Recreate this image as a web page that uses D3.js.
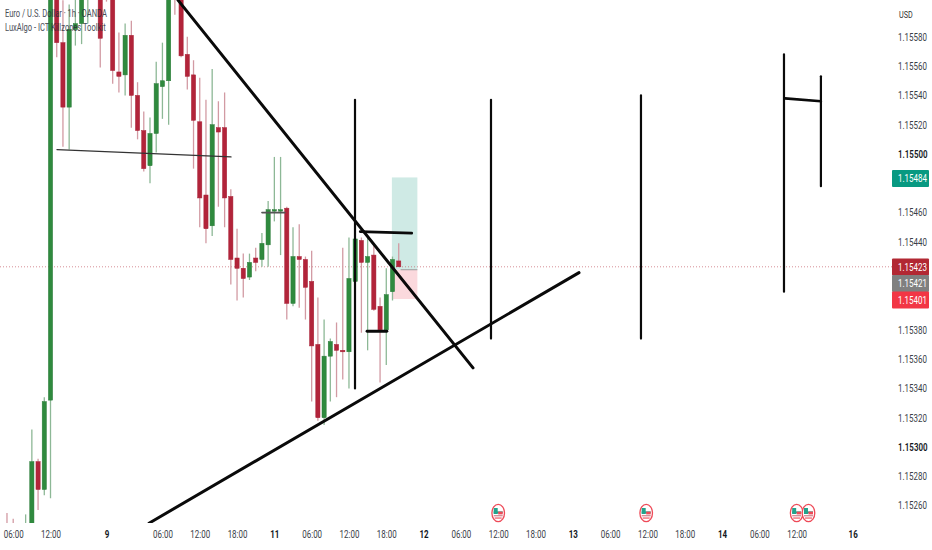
<!DOCTYPE html>
<html><head><meta charset="utf-8">
<style>
html,body{margin:0;padding:0;background:#fff;overflow:hidden}
svg{display:block}
text{font-family:Roboto,"Open Sans",sans-serif}
</style>
<script src="https://cdn.jsdelivr.net/npm/d3@7/dist/d3.min.js"></script>
</head><body><svg id="c" width="932" height="550"></svg>
<script>
// Hourly bars, prices expressed as 1.15 + value / 100000
const barStart = -1;
const opens  = [243,243,225,235,240,290,271,332,640,576,532,585,589,611,635,625,630,620,556,554,581,540,516,492,514,546,550,625,612,568,554,522,472,451,518,518,471,429,422,416,429,428,438,461,461,463,398,430,428,413,370,320,362,370,366,365,413,441,426,431,396,380,406,427];
const highs  = [255,251,232,254,312,292,334,650,650,605,602,610,615,630,650,630,635,625,583,589,591,549,529,525,563,576,625,630,620,580,564,552,537,558,536,542,476,449,432,432,436,446,468,498,498,464,450,452,430,434,402,387,374,385,436,443,443,443,443,438,402,422,430,439];
const lows   = [237,237,220,232,235,257,267,265,566,505,503,574,575,589,612,559,604,548,542,540,518,510,488,480,501,524,520,595,566,544,490,450,439,444,464,450,411,400,402,414,420,423,423,454,431,387,396,395,387,331,318,315,331,334,346,340,412,378,366,393,344,356,400,423];
const closes = [240,240,230,243,290,271,331,646,576,532,585,589,611,625,625,579,620,557,553,581,540,516,490,514,548,550,615,612,567,553,523,470,449,520,515,470,428,422,415,426,426,439,462,462,462,398,430,428,409,369,320,362,372,366,365,415,442,426,430,394,380,404,428,423];

const priceTicks = [1.1526,1.1528,1.1530,1.1532,1.1534,1.1536,1.1538,1.1544,1.1546,1.1550,1.1552,1.1554,1.1556,1.1558];
const boldPrices = [1.1530,1.1550];
const timeTickBars = [0,6,15,24,30,36,42,48,54,60,66,72,78,84,90,96,102,108,114,120,126,135];
const timeTickLabels = ["06:00","12:00","9","06:00","12:00","18:00","11","06:00","12:00","18:00","12","06:00","12:00","18:00","13","06:00","12:00","18:00","14","06:00","12:00","16"];
const boldTimes = ["9","11","12","13","14","16"];

const lastPrice = 1.15423;
const tagPrices = [1.15484,1.15423,1.15421,1.15401];
const tagColors = ["#089981","#b22833","#808080","#f23645"];
const titleLines = ["Euro / U.S. Dollar · 1h · OANDA","LuxAlgo - ICT Killzones Toolkit"];
const eventBars = [78,101.8,126,127.9];

// Position tool: bar range and target / entry / stop
const positionBars = [60.9,65];
const positionPrices = [1.15484,1.15421,1.15401];

// Hand-drawn lines: [bar, price, bar, price, width, colour]
const drawnLines = [
 [26.5,1.15605,73.95,1.15354,3,"#0a0a0a"],
 [21.84,1.15248,91,1.15419,3,"#0a0a0a"],
 [7.04,1.15503,35.03,1.15498,1.3,"#333"],
 [40,1.1546,43.7,1.1546,1.6,"#555"],
 [54.97,1.15537,54.97,1.1534,2.2,"#0a0a0a"],
 [76.84,1.15537,76.84,1.15374,2.2,"#0a0a0a"],
 [100.96,1.1554,100.96,1.15374,2.2,"#0a0a0a"],
 [123.96,1.15568,123.96,1.15406,2.2,"#0a0a0a"],
 [129.9,1.15553,129.9,1.15478,2.2,"#0a0a0a"],
 [124.1,1.15538,129.9,1.15536,2.6,"#0a0a0a"],
 [55.8,1.15447,64.1,1.15446,2.6,"#0a0a0a"],
 [56.9,1.15379,60.1,1.15379,2.8,"#0a0a0a"]
];

const x = d3.scaleLinear().domain([0,100]).range([13.2,635]);
const y = d3.scaleLinear().domain([1.155,1.153]).range([154,447]);
const svg = d3.select("#c");
const plotW = 892, plotH = 523;
svg.append("defs").append("clipPath").attr("id","plot").append("rect").attr("width",plotW).attr("height",plotH);
const plot = svg.append("g").attr("clip-path","url(#plot)");

const bars = opens.map((o,i)=>({i:i+barStart,o:1.15+o/1e5,h:1.15+highs[i]/1e5,l:1.15+lows[i]/1e5,c:1.15+closes[i]/1e5}));
const UP="#2f8a3e", DOWN="#b2243a", UPB="#2a7a38", DOWNB="#a82136";

// position tool
plot.append("rect").attr("x",x(positionBars[0])).attr("width",x(positionBars[1])-x(positionBars[0]))
 .attr("y",y(positionPrices[0])).attr("height",y(positionPrices[1])-y(positionPrices[0])).attr("fill","#cfeae5");
plot.append("rect").attr("x",x(positionBars[0])).attr("width",x(positionBars[1])-x(positionBars[0]))
 .attr("y",y(positionPrices[1])).attr("height",y(positionPrices[2])-y(positionPrices[1])).attr("fill","#fbd9dd");

// last price line
plot.append("line").attr("x1",0).attr("x2",plotW).attr("y1",y(lastPrice)).attr("y2",y(lastPrice))
 .attr("stroke","#c5606c").attr("stroke-width",1).attr("stroke-dasharray","1 2").attr("opacity",.7);

// wicks
plot.selectAll("line.w").data(bars).join("line").attr("class","w")
 .attr("x1",d=>x(d.i)).attr("x2",d=>x(d.i)).attr("y1",d=>y(d.h)).attr("y2",d=>y(d.l))
 .attr("stroke",d=>d.c>=d.o?"#8db896":"#d29aa3").attr("stroke-width",1.3);
// bodies
plot.selectAll("rect.b").data(bars).join("rect").attr("class","b")
 .attr("x",d=>x(d.i)-2.1).attr("width",4.2)
 .attr("y",d=>y(Math.max(d.o,d.c))).attr("height",d=>Math.max(1.5,Math.abs(y(d.o)-y(d.c))))
 .attr("fill",d=>d.c>=d.o?UP:DOWN).attr("stroke",d=>d.c>=d.o?UPB:DOWNB).attr("stroke-width",.5);

// drawn lines
plot.selectAll("line.d").data(drawnLines).join("line").attr("class","d")
 .attr("x1",d=>x(d[0])).attr("y1",d=>y(d[1])).attr("x2",d=>x(d[2])).attr("y2",d=>y(d[3]))
 .attr("stroke",d=>d[5]).attr("stroke-width",d=>d[4]).attr("stroke-linecap","round");
// entry marker inside the position tool
plot.append("line").attr("x1",x(62.3)).attr("x2",x(positionBars[1])).attr("y1",y(positionPrices[1])).attr("y2",y(positionPrices[1]))
 .attr("stroke","#999").attr("stroke-width",1);

// events
const ev = svg.append("g").selectAll("g").data(eventBars).join("g").attr("transform",d=>`translate(${x(d)},513)`);
ev.append("ellipse").attr("rx",6.3).attr("ry",8.6).attr("fill","#fff").attr("stroke","#ee4a58").attr("stroke-width",1.3);
ev.append("rect").attr("x",-4.5).attr("y",-5).attr("width",4).attr("height",6).attr("fill","#22a38c");
ev.append("rect").attr("x",-4.5).attr("y",-1.6).attr("width",9).attr("height",2).attr("fill","#22a38c");
ev.append("rect").attr("x",0).attr("y",-1.4).attr("width",4.5).attr("height",2.8).attr("fill","#ee4a58");
ev.append("rect").attr("x",-4.5).attr("y",2.2).attr("width",9).attr("height",1.1).attr("fill","#c9737f");
ev.append("rect").attr("x",-3.5).attr("y",4.5).attr("width",7).attr("height",1.1).attr("fill","#ee4a58");

// y axis
const yAxis = d3.axisRight(y).tickValues(priceTicks).tickSize(0).tickPadding(0).tickFormat(d3.format(".5f"));
const gy = svg.append("g").attr("transform","translate(898,0)").call(yAxis);
gy.select(".domain").remove();
gy.selectAll("text").attr("font-size",10.5).attr("fill",d=>boldPrices.some(b=>Math.abs(b-d)<1e-7)?"#131722":"#3a3e48")
 .attr("font-weight",d=>boldPrices.some(b=>Math.abs(b-d)<1e-7)?600:400);

svg.append("text").attr("x",899).attr("y",18).attr("font-size",9.5).attr("fill","#333").text("USD");

// x axis
const xAxis = d3.axisBottom(x).tickValues(timeTickBars).tickSize(0).tickPadding(0).tickFormat((d,i)=>timeTickLabels[i]);
const gx = svg.append("g").attr("transform","translate(0,531)").call(xAxis);
gx.select(".domain").remove();
gx.selectAll("text").attr("font-size",10.5)
 .attr("fill",(d,i)=>boldTimes.includes(timeTickLabels[i])?"#131722":"#3a3e48")
 .attr("font-weight",(d,i)=>boldTimes.includes(timeTickLabels[i])?700:400);

// price tags
const tags = svg.append("g").selectAll("g").data(tagPrices).join("g");
const tagYs = [178.5,267,283.5,300];
tags.append("rect").attr("x",892).attr("width",37).attr("y",(d,i)=>tagYs[i]-8.5).attr("height",17).attr("fill",(d,i)=>tagColors[i]).attr("rx",1);
tags.append("text").attr("x",898).attr("y",(d,i)=>tagYs[i]+3.6).attr("font-size",10.5).attr("fill","#fff").text(d=>d3.format(".5f")(d));

// the reference lettering is condensed horizontally
const squeeze = k => function(){
  const ax = +this.getAttribute("x") || 0;
  this.setAttribute("transform",`translate(${ax},0) scale(${k},1) translate(${-ax},0)`);
};
svg.selectAll("text").each(squeeze(0.76));

// title
svg.append("g").selectAll("text").data(titleLines).join("text")
 .attr("x",5).attr("y",(d,i)=>17+i*14.5).attr("font-size",10.5).attr("fill","#2a2e39").attr("opacity",.85).text(d=>d)
 .each(squeeze(0.72));
</script></body></html>
